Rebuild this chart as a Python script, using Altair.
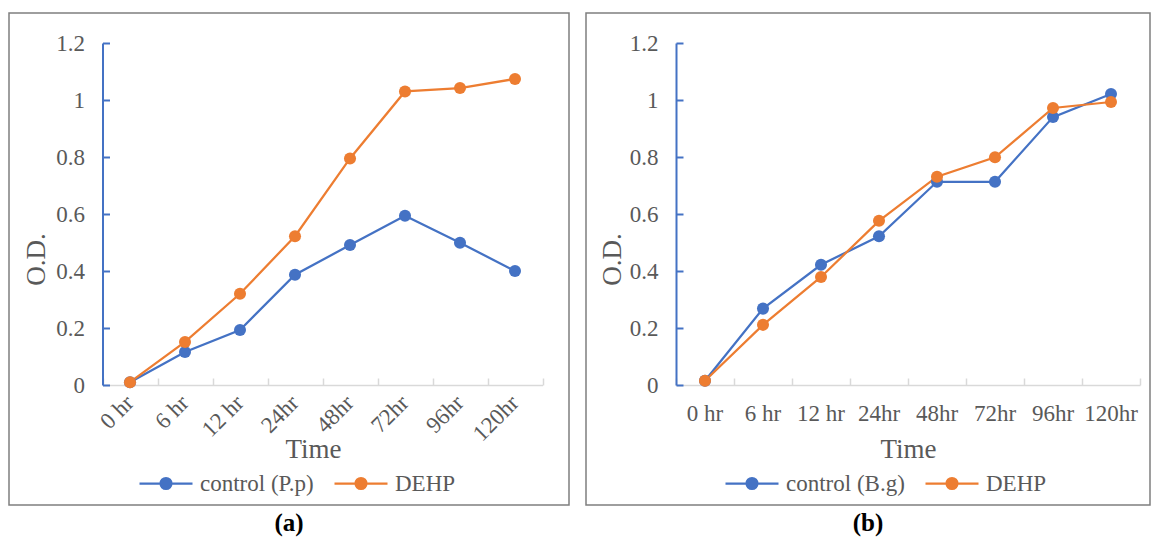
import altair as alt
import pandas as pd

# Sampling times (category axis)
times = ["0 hr", "6 hr", "12 hr", "24hr", "48hr", "72hr", "96hr", "120hr"]

# Panel (a): P.p growth
pp_control = [0.010, 0.116, 0.193, 0.387, 0.491, 0.594, 0.499, 0.400]
pp_dehp = [0.010, 0.151, 0.320, 0.522, 0.795, 1.030, 1.042, 1.074]

# Panel (b): B.g growth
bg_control = [0.015, 0.268, 0.422, 0.522, 0.713, 0.713, 0.940, 1.021]
bg_dehp = [0.015, 0.211, 0.379, 0.576, 0.731, 0.799, 0.972, 0.993]

y_ticks = [0, 0.2, 0.4, 0.6, 0.8, 1, 1.2]

BLUE = "#4472C4"
ORANGE = "#ED7D31"
TEXT = "#595959"
GRID = "#D9D9D9"
FONT = "'Liberation Serif', 'Times New Roman', serif"

PANEL_H = 492
AXIS_Y = 372   # y pixel of value 0 inside a panel
TOP_Y = 30     # y pixel of value 1.2 inside a panel
SYM = 53       # legend glyph width in pixels


def ring(r):
    return f"M{r},0A{r},{r},0,1,1,-{r},0A{r},{r},0,1,1,{r},0"


# Legend glyph: a line segment with a marker dot built from concentric
# stroked rings, so a single stroke colour fills it.
LEGEND_SYMBOL = "M-1,0L1,0" + "".join(
    ring(r) for r in (0.205, 0.16, 0.115, 0.07, 0.025))


def panel(control_label, control, dehp, tag, width, x0, step, rotate,
          legend_x, time_x, time_y, od_x, label_pad):
    df = pd.DataFrame({
        "time": times * 2,
        "t": list(range(len(times))) * 2,
        "od": control + dehp,
        "series": [control_label] * len(times) + ["DEHP"] * len(times),
    })
    df["marker"] = df["series"]
    order = [control_label, "DEHP"]

    x_scale = alt.Scale(type="band", domain=times,
                        range=[x0, x0 + step * len(times)],
                        paddingInner=0, paddingOuter=0)
    y_scale = alt.Scale(domain=[0, 1.2], range=[AXIS_Y, TOP_Y],
                        nice=False, zero=True)

    lines = alt.Chart(df).mark_line(strokeWidth=2.25).encode(
        x=alt.X("time:N", scale=x_scale, axis=alt.Axis(
            orient="top", offset=-AXIS_Y, labels=False, title=None,
            domainColor=GRID, domainWidth=1.5, tickColor=GRID,
            tickWidth=1.5, tickSize=7, tickBand="extent", grid=False)),
        y=alt.Y("od:Q", scale=y_scale, axis=alt.Axis(
            orient="right", offset=-(width - x0), labels=False, title=None,
            values=y_ticks, domainColor=BLUE, domainWidth=2,
            tickColor=BLUE, tickWidth=2, tickSize=7, grid=False)),
        order=alt.Order("t:Q"),
        color=alt.Color("series:N", sort=order,
                        scale=alt.Scale(range=[BLUE, ORANGE]),
                        legend=alt.Legend(
                            title=None, orient="none", legendX=legend_x,
                            legendY=AXIS_Y + 97 - SYM / 2,
                            direction="horizontal", symbolSize=SYM * SYM,
                            symbolType=LEGEND_SYMBOL, symbolStrokeWidth=2.25,
                            symbolOpacity=1, labelFont=FONT,
                            labelFontSize=23, labelColor=TEXT,
                            labelOffset=6, columnPadding=16, padding=0)),
    )

    x_label_axis = dict(
        orient="bottom", offset=-(PANEL_H - AXIS_Y), domain=False,
        ticks=False, grid=False, labelPadding=label_pad,
        title="Time", titleX=time_x, titleY=time_y,
        titleBaseline="middle", titleAlign="center",
    )
    if rotate:
        x_label_axis.update(labelAngle=-45, labelAlign="right",
                            labelBaseline="middle")
    else:
        x_label_axis.update(labelAngle=0, labelAlign="center",
                            labelBaseline="top")

    points = alt.Chart(df).mark_circle(size=145, opacity=1).encode(
        x=alt.X("time:N", scale=x_scale, axis=alt.Axis(**x_label_axis)),
        y=alt.Y("od:Q", scale=y_scale, axis=alt.Axis(
            orient="left", offset=-x0, domain=False, ticks=False,
            grid=False, values=y_ticks, format="~g", labelPadding=18,
            title="O.D.", titleX=od_x, titleY=246,
            titleBaseline="middle", titleAlign="center")),
        fill=alt.Fill("marker:N", sort=order,
                      scale=alt.Scale(range=[BLUE, ORANGE]), legend=None),
    )

    return alt.layer(lines, points).resolve_axis(
        x="independent", y="independent"
    ).properties(
        width=width, height=PANEL_H,
        title=alt.TitleParams(tag, orient="bottom", anchor="middle",
                              font=FONT, fontSize=25, fontWeight="bold",
                              color="black", offset=6),
    )


panel_a = panel("control (P.p)", pp_control, pp_dehp, "(a)",
                width=560, x0=93.5, step=55, rotate=True,
                legend_x=129, time_x=304, time_y=64, od_x=-66, label_pad=14)
panel_b = panel("control (B.g)", bg_control, bg_dehp, "(b)",
                width=564, x0=90, step=58, rotate=False,
                legend_x=138, time_x=322, time_y=64, od_x=-64, label_pad=17)

chart = alt.hconcat(panel_a, panel_b, spacing=15).resolve_scale(
    color="independent", fill="independent"
).properties(
    padding={"left": 8, "top": 12, "right": 0, "bottom": 0},
).configure_view(
    stroke="#7F7F7F", strokeWidth=1.5
).configure_axis(
    labelFont=FONT, labelFontSize=23, labelColor=TEXT,
    titleFont=FONT, titleFontSize=27, titleColor=TEXT,
    titleFontWeight="normal",
)

chart.save("out.html", embed_options={"renderer": "svg", "actions": False})
